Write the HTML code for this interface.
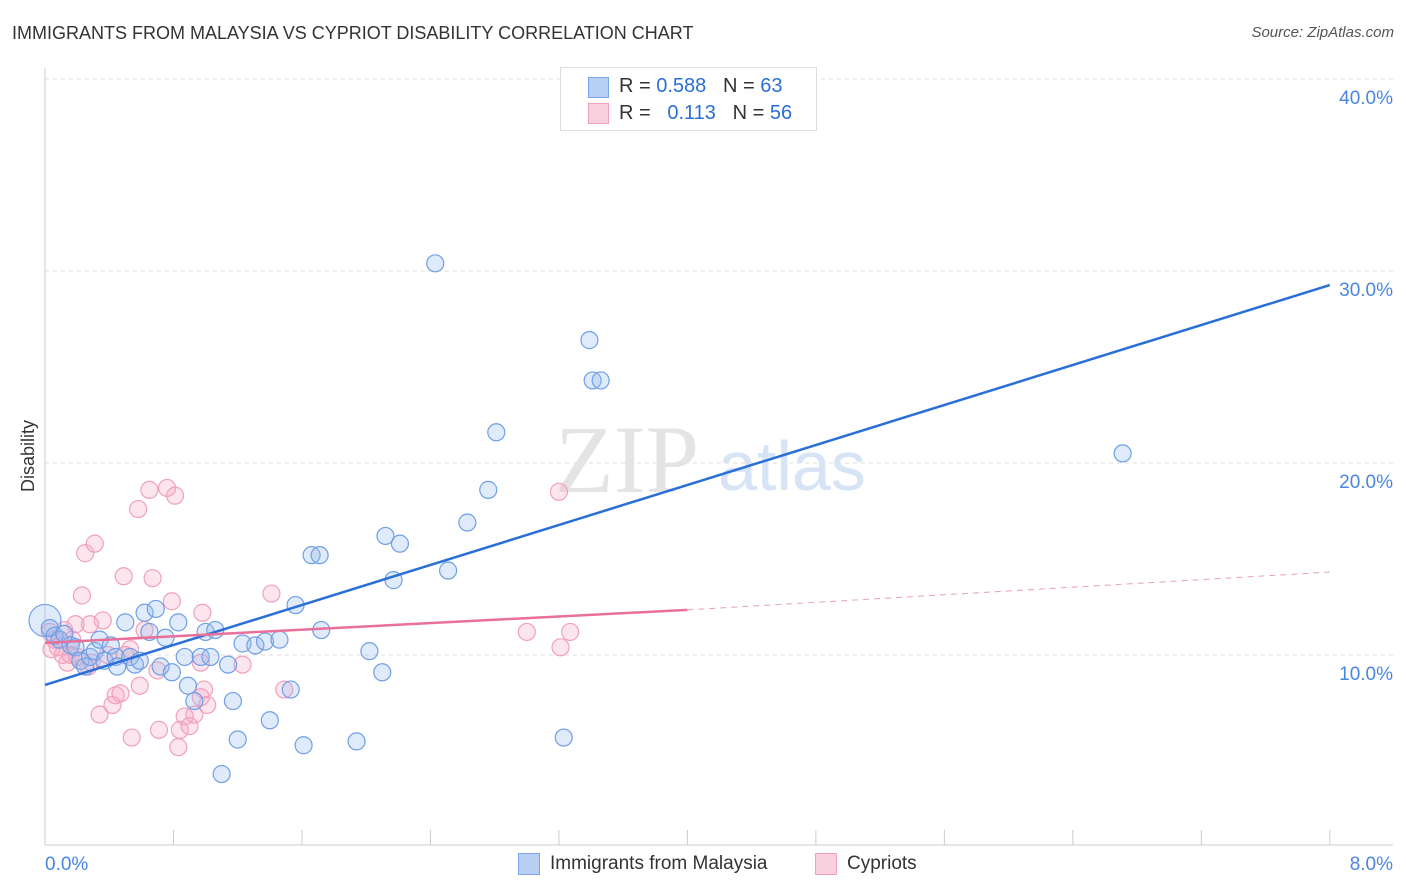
<!DOCTYPE html>
<html><head><meta charset="utf-8">
<style>
body{margin:0;background:#fff;font-family:"Liberation Sans",sans-serif;}
#wrap{position:relative;width:1406px;height:892px;overflow:hidden;}
.t{position:absolute;white-space:nowrap;}
</style></head><body>
<div id="wrap">
<div class="t" style="left:12px;top:23px;font-size:18px;color:#333;">IMMIGRANTS FROM MALAYSIA VS CYPRIOT DISABILITY CORRELATION CHART</div>
<div class="t" style="right:12px;top:24px;font-size:15px;color:#555;font-style:italic;">Source: ZipAtlas.com</div>
<svg id="svg" width="1406" height="892" style="position:absolute;left:0;top:0"></svg>
</div>
<script>
const blueX=[0.0,0.03,0.06,0.09,0.12,0.16,0.19,0.22,0.25,0.28,0.31,0.34,0.37,0.41,0.44,0.45,0.5,0.53,0.56,0.59,0.62,0.65,0.69,0.72,0.75,0.79,0.83,0.87,0.89,0.93,0.97,1.0,1.03,1.06,1.1,1.14,1.17,1.2,1.23,1.31,1.37,1.4,1.46,1.53,1.56,1.61,1.66,1.71,1.72,1.94,2.02,2.1,2.12,2.17,2.21,2.43,2.51,2.63,2.76,2.81,3.23,3.39,3.41,3.46,6.71];
const blueY=[11.8,11.4,11.0,10.8,11.1,10.5,10.4,9.7,9.4,9.9,10.2,10.8,9.7,10.5,9.9,9.4,11.7,9.9,9.5,9.7,12.2,11.2,12.4,9.4,10.9,9.1,11.7,9.9,8.4,7.6,9.9,11.2,9.9,11.3,3.8,9.5,7.6,5.6,10.6,10.5,10.7,6.6,10.8,8.2,12.6,5.3,15.2,15.2,11.3,5.5,10.2,9.1,16.2,13.9,15.8,30.4,14.4,16.9,18.6,21.6,5.7,26.4,24.3,24.3,20.5];
const pinkX=[0.03,0.06,0.08,0.11,0.12,0.14,0.17,0.19,0.2,0.23,0.25,0.27,0.29,0.31,0.34,0.36,0.39,0.42,0.44,0.47,0.49,0.53,0.54,0.58,0.62,0.65,0.67,0.7,0.71,0.76,0.79,0.81,0.84,0.87,0.9,0.93,0.97,0.98,0.99,1.01,1.23,1.41,1.49,3.0,3.2,3.21,3.27,0.83,0.28,0.59,0.04,0.5,0.16,0.97];
const pinkY=[11.2,10.8,10.4,10.0,11.3,9.6,10.8,11.6,9.9,13.1,15.3,9.4,9.6,15.8,6.9,11.8,10.0,7.4,7.9,8.0,14.1,10.3,5.7,17.6,11.3,18.6,14.0,9.2,6.1,18.7,12.8,18.3,6.1,6.8,6.3,6.9,9.6,12.2,8.2,7.4,9.5,13.2,8.2,11.2,18.5,10.4,11.2,5.2,11.6,8.4,10.3,10.0,10.0,7.8];
const yTicks=[10,20,30,40];
const yTickLabels=["10.0%","20.0%","30.0%","40.0%"];
const xEnds=["0.0%","8.0%"];
const blueLine=[8.44,29.27];
const pinkLine=[10.63,12.35,14.32];
const X=v=>45+v*160.6, Y=v=>655-(v-10)*19.2;
const svg=document.getElementById('svg');const NS="http://www.w3.org/2000/svg";
function mk(t,a,p){const e=document.createElementNS(NS,t);for(const k in a)e.setAttribute(k,a[k]);(p||svg).appendChild(e);return e;}
yTicks.forEach((v,i)=>{
 const g=mk('line',{x1:45,x2:1393,y1:Y(v),y2:Y(v),stroke:'#ddd','stroke-dasharray':'4,4'});
 
 
 const t=mk('text',{x:1393,y:Y(v)+25,'text-anchor':'end','font-size':19,fill:'#4a86e0'});t.textContent=yTickLabels[i];
 
 
});
mk('line',{x1:45,x2:45,y1:68,y2:845,stroke:'#ccc'});
mk('line',{x1:45,x2:1393,y1:845,y2:845,stroke:'#ccc'});
for(let i=0;i<=10;i++){const l=mk('line',{x1:X(i*0.8),x2:X(i*0.8),y1:830,y2:845,stroke:'#ccc'});
 
 }
[[45,'start',0],[1393,'end',1]].forEach(a=>{const t=mk('text',{x:a[0],y:870,'text-anchor':a[1],'font-size':19,fill:'#4a86e0'});t.textContent=xEnds[a[2]];
 
 });
const yl=mk('text',{x:34,y:456,transform:'rotate(-90 34 456)','text-anchor':'middle','font-size':18,fill:'#333'});yl.textContent='Disability';


const wm=mk('text',{x:555,y:492,'font-size':96,fill:'#e4e4e4','font-family':'Liberation Serif'});wm.textContent='ZIP';


const wm2=mk('text',{x:718,y:490,'font-size':70,fill:'#d6e4f5'});wm2.textContent='atlas';


pinkX.forEach((x,i)=>{const c=mk('circle',{cx:X(x),cy:Y(pinkY[i]),r:8.5,fill:'rgba(248,170,195,0.3)',stroke:'#f0a0bc','stroke-width':1.2});
 
 });
blueX.forEach((x,i)=>{const c=mk('circle',{cx:X(x),cy:Y(blueY[i]),r:i==0?16:8.5,fill:'rgba(150,185,240,0.3)',stroke:'#6f9fe6','stroke-width':1.2});
 
 });
const bl=mk('line',{x1:X(0),y1:Y(blueLine[0]),x2:X(8),y2:Y(blueLine[1]),stroke:'#2a6fd8','stroke-width':2.5});


const pl=mk('line',{x1:X(0),y1:Y(pinkLine[0]),x2:X(4),y2:Y(pinkLine[1]),stroke:'#e8709a','stroke-width':2.5});


const pd=mk('line',{x1:X(4),y1:Y(pinkLine[1]),x2:X(8),y2:Y(pinkLine[2]),stroke:'#e8a0b8','stroke-width':1,'stroke-dasharray':'6,5'});


</script>
<div class="t" style="left:560px;top:67px;width:255px;height:62px;border:1px solid #ddd;background:#fff;">
 <div class="t" style="left:27px;top:9px;width:19px;height:19px;background:#b9d0f5;border:1px solid #7da6e8;"></div>
 <div class="t" style="left:58px;top:7px;font-size:20px;color:#333;">R = <span style="color:#2a6fd8">0.588</span>&nbsp;&nbsp;&nbsp;N = <span style="color:#2a6fd8">63</span></div>
 <div class="t" style="left:27px;top:35px;width:19px;height:19px;background:#fbd0de;border:1px solid #f0a0bc;"></div>
 <div class="t" style="left:58px;top:34px;font-size:20px;color:#333;">R = &nbsp;&nbsp;<span style="color:#2a6fd8">0.113</span>&nbsp;&nbsp;&nbsp;N = <span style="color:#2a6fd8">56</span></div>
</div>
<div class="t" style="left:518px;top:853px;width:20px;height:20px;background:#b9d0f5;border:1px solid #7da6e8;"></div>
<div class="t" style="left:550px;top:853px;font-size:19px;color:#333;">Immigrants from Malaysia</div>
<div class="t" style="left:815px;top:853px;width:20px;height:20px;background:#fbd0de;border:1px solid #f0a0bc;"></div>
<div class="t" style="left:847px;top:853px;font-size:19px;color:#333;">Cypriots</div>
</body></html>
